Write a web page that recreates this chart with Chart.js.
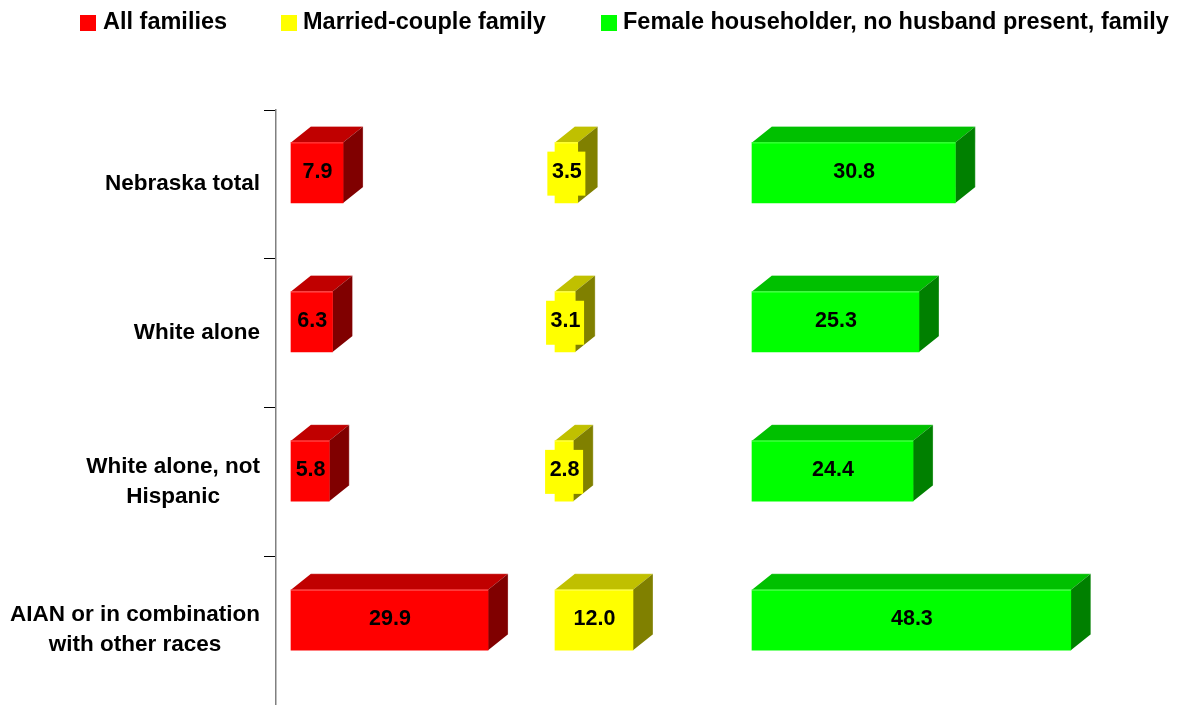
<!DOCTYPE html>
<html>
<head>
<meta charset="utf-8">
<style>html,body{margin:0;padding:0;background:#fff;overflow:hidden}canvas{display:block}</style>
<script src="https://cdn.jsdelivr.net/npm/chart.js@4/dist/chart.umd.min.js"></script>
</head>
<body>
<canvas id="c" width="1182" height="705"></canvas>
<script>
const categories = ["Nebraska total", "White alone", ["White alone, not", "Hispanic"], ["AIAN or in combination", "with other races"]];
const seriesNames = ["All families", "Married-couple family", "Female householder, no husband present, family"];
const allFamilies = [7.9, 6.3, 5.8, 29.9];
const marriedCouple = [3.5, 3.1, 2.8, 12.0];
const femaleHouseholder = [30.8, 25.3, 24.4, 48.3];

const FONT = '"Liberation Sans", Arial, sans-serif';
const shades = [
  {front: '#FF0000', top: '#C00000', side: '#800000'},
  {front: '#FFFF00', top: '#C0C000', side: '#808000'},
  {front: '#00FF00', top: '#00C000', side: '#008000'}
];
const DX = 20, DY = 16;
const legendPos = [[80, 103], [281, 303], [601, 623]];

const depthPlugin = {
  id: 'depth',
  beforeDatasetsDraw(chart) {
    const ctx = chart.ctx;
    chart.data.datasets.forEach((ds, d) => {
      chart.getDatasetMeta(d).data.forEach(bar => {
        const l = bar.base, r = bar.x, t = bar.y - bar.height / 2, b = bar.y + bar.height / 2;
        ctx.fillStyle = shades[d].top;
        ctx.beginPath();
        ctx.moveTo(l, t); ctx.lineTo(l + DX, t - DY); ctx.lineTo(r + DX, t - DY); ctx.lineTo(r, t);
        ctx.closePath(); ctx.fill();
        ctx.fillStyle = shades[d].side;
        ctx.beginPath();
        ctx.moveTo(r, t); ctx.lineTo(r + DX, t - DY); ctx.lineTo(r + DX, b - DY); ctx.lineTo(r, b);
        ctx.closePath(); ctx.fill();
        ctx.strokeStyle = 'rgba(255,255,255,0.3)';
        ctx.lineWidth = 1;
        ctx.beginPath();
        ctx.moveTo(l + DX, t - DY); ctx.lineTo(r + DX, t - DY); ctx.lineTo(r + DX, b - DY);
        ctx.stroke();
      });
    });
  },
  afterDatasetsDraw(chart) {
    const ctx = chart.ctx;
    ctx.save();
    ctx.textAlign = 'center';
    ctx.textBaseline = 'middle';
    ctx.font = 'bold 21.5px ' + FONT;
    chart.data.datasets.forEach((ds, d) => {
      chart.getDatasetMeta(d).data.forEach((bar, i) => {
        const cx = (bar.base + bar.x) / 2;
        const t = bar.y - bar.height / 2;
        ctx.fillStyle = shades[d].front;
        ctx.fillRect(cx - 19, bar.y - 21, 38, 44);
        ctx.fillStyle = 'rgba(255,255,255,0.3)';
        ctx.fillRect(bar.base, t, bar.x - bar.base, 1);
        ctx.fillStyle = '#000';
        ctx.fillText(ds.data[i].x.toFixed(1), cx + 0.5, bar.y - 0.5);
      });
    });
    // legend
    ctx.textAlign = 'left';
    ctx.font = 'bold 23.5px ' + FONT;
    seriesNames.forEach((name, i) => {
      ctx.fillStyle = shades[i].front;
      ctx.fillRect(legendPos[i][0], 15, 16, 16);
      ctx.fillStyle = '#000';
      ctx.fillText(name, legendPos[i][1], 23);
    });
    ctx.restore();
  }
};

// Multi-line tick labels: lines are centred on each other, the block stays right-aligned.
const tickBlockPlugin = {
  id: 'tickBlock',
  beforeDraw(chart) {
    const s = chart.scales.y;
    if (s._blockWrapped) return;
    s._blockWrapped = true;
    const orig = s._computeLabelItems;
    s._computeLabelItems = function (ca) {
      const items = orig.call(this, ca);
      const ctx = this.ctx;
      items.forEach(it => {
        it.options.translation[1] -= 0.5;
        if (Array.isArray(it.label)) {
          ctx.save();
          ctx.font = it.font.string;
          const w = Math.max(...it.label.map(t => ctx.measureText(t).width));
          ctx.restore();
          it.options.textAlign = 'center';
          it.options.translation[0] -= w / 2;
        }
      });
      return items;
    };
    s._labelItems = null;
  }
};

const toPoints = arr => arr.map((v, i) => ({x: v, y: i}));
const hiddenX = (min, max) => ({type: 'linear', axis: 'x', display: false, min, max});

new Chart(document.getElementById('c'), {
  type: 'bar',
  data: {
    labels: categories,
    datasets: [
      {label: seriesNames[0], data: toPoints(allFamilies), xAxisID: 'x1', yAxisID: 'yb', backgroundColor: shades[0].front},
      {label: seriesNames[1], data: toPoints(marriedCouple), xAxisID: 'x2', yAxisID: 'yb', backgroundColor: shades[1].front},
      {label: seriesNames[2], data: toPoints(femaleHouseholder), xAxisID: 'x3', yAxisID: 'yb', backgroundColor: shades[2].front}
    ]
  },
  options: {
    indexAxis: 'y',
    responsive: false,
    animation: false,
    devicePixelRatio: 1,
    grouped: false,
    barThickness: 60.5,
    layout: {padding: {top: 110, left: 0, right: 0, bottom: 0}},
    plugins: {legend: {display: false}, tooltip: {enabled: false}},
    scales: {
      x1: hiddenX(-2.276, 135.2),
      x2: hiddenX(-42.92, 96.46),
      x3: hiddenX(-72.12, 65.15),
      yb: {type: 'linear', axis: 'y', display: false, offset: false, reverse: true, min: -0.42, max: 3.57},
      y: {
        type: 'category',
        axis: 'y',
        position: 'left',
        afterFit(s) { s.width = 276; s.paddingTop = 0; s.paddingBottom = 0; },
        border: {display: true, color: '#808080', width: 1.5},
        grid: {display: true, offset: true, drawOnChartArea: false, drawTicks: true, tickLength: 12, color: '#000', lineWidth: 1},
        ticks: {
          autoSkip: false,
          padding: 4,
          color: '#000',
          font: {family: FONT, weight: 'bold', size: 22.5, lineHeight: 30 / 22.5}
        }
      }
    }
  },
  plugins: [tickBlockPlugin, depthPlugin]
});
</script>
</body>
</html>
